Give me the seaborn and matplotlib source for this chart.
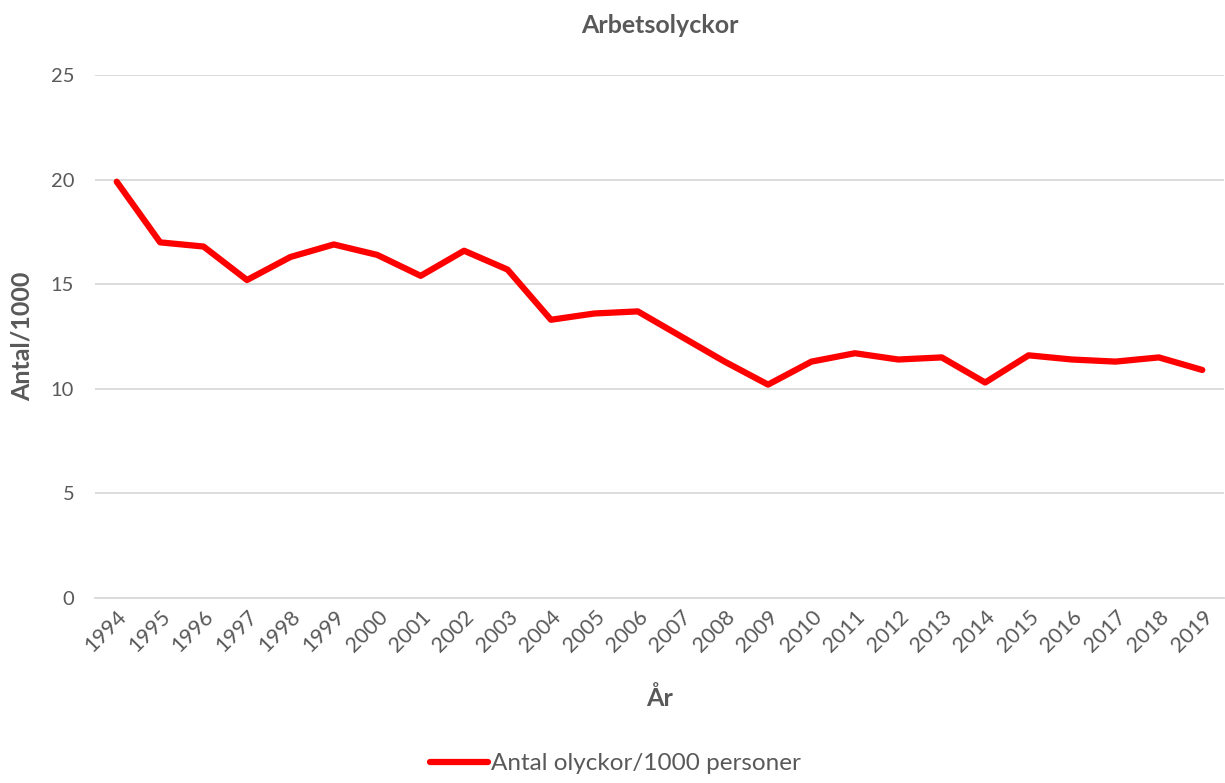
import matplotlib
matplotlib.use("Agg")
import matplotlib.pyplot as plt
import seaborn as sns
import pandas as pd

# Arbetsolyckor per 1000 personer, 1994-2019
years = [str(y) for y in range(1994, 2020)]
values = [19.9, 17.0, 16.8, 15.2, 16.3, 16.9, 16.4, 15.4, 16.6, 15.7,
          13.3, 13.6, 13.7, 12.5, 11.3, 10.2, 11.3, 11.7, 11.4, 11.5,
          10.3, 11.6, 11.4, 11.3, 11.5, 10.9]
y_ticks = [0, 5, 10, 15, 20, 25]

df = pd.DataFrame({"year": years, "value": values})

sns.set_style("white")
plt.rcParams['font.family'] = ['Lato', 'DejaVu Sans']
grey = "#595959"

fig = plt.figure(figsize=(12.25, 7.83), dpi=100)
ax = fig.add_axes([95 / 1225, 1 - 598 / 783, (1224 - 95) / 1225, (598 - 75) / 783])

sns.lineplot(data=df, x="year", y="value", ax=ax, color="#ff0000", linewidth=4.5,
             label="Antal olyckor/1000 personer", sort=False)

ax.set_ylim(0, 25)
ax.set_xlim(-0.5, len(years) - 0.5)
ax.set_yticks(y_ticks)
ax.yaxis.grid(True, color="#d9d9d9", linewidth=1.3)
ax.set_axisbelow(True)
for side in ["top", "right", "left"]:
    ax.spines[side].set_visible(False)
ax.spines["bottom"].set_color("#d9d9d9")
ax.spines["bottom"].set_linewidth(1.3)
ax.tick_params(axis="y", length=0, colors=grey, labelsize=14.5, pad=15)
ax.tick_params(axis="x", length=0, colors=grey, labelsize=15.5, pad=6)
plt.setp(ax.get_xticklabels(), rotation=45, ha="right", rotation_mode="anchor")

ax.set_title("Arbetsolyckor", fontsize=18, fontweight="bold", color=grey, pad=30)
ax.set_xlabel("År", fontsize=18, fontweight="bold", color=grey, labelpad=22)
ax.set_ylabel("Antal/1000", fontsize=18, fontweight="bold", color=grey, labelpad=12)

leg = ax.legend(loc="upper center", bbox_to_anchor=(0.461, -0.255), frameon=False,
                fontsize=17.5, handlelength=2.4, handletextpad=0.1)
for t in leg.get_texts():
    t.set_color(grey)

fig.savefig("out.png", dpi=100)
